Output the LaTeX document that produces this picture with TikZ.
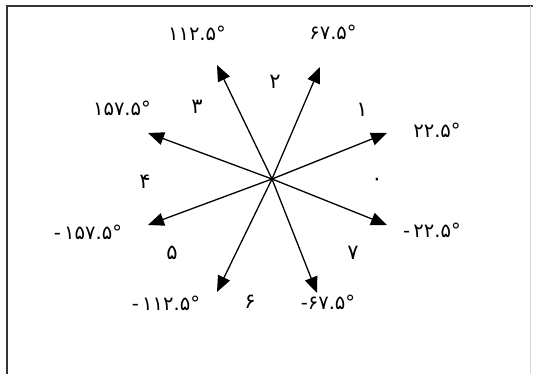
\documentclass[tikz,border=0pt]{standalone}
\usepackage{fontspec}
\newfontfamily\farsifont[Script=Arabic]{DejaVu Sans}
\usepackage{tikz}
\usetikzlibrary{arrows.meta}

\begin{document}
\begin{tikzpicture}[
    x=1pt, y=-1pt,
    angle/.style={font=\farsifont\fontsize{19.5}{21}\selectfont, inner sep=0pt},
    sector/.style={font=\farsifont\fontsize{21}{23}\selectfont, inner sep=0pt},
    arr/.style={-{Triangle[length=16pt,width=13pt]}, line width=1.3pt},
  ]
  \useasboundingbox (0,0) rectangle (533,374);
  % frame
  \draw[line width=2pt, black!80] (7,374) -- (7,6) -- (533,6);
  \draw[black!15] (530,6) -- (530,374);

  % centre and arrow tips
  \coordinate (o)    at (272,179);
  \coordinate (t0)   at (387,133);
  \coordinate (t1)   at (320,67);
  \coordinate (t2)   at (217,65);
  \coordinate (t3)   at (148,133);
  \coordinate (t4)   at (148,225);
  \coordinate (t5)   at (217,292);
  \coordinate (t6)   at (317,293);
  \coordinate (t7)   at (387,225);

  \draw[arr] (o) -- (t0);
  \draw[arr] (o) -- (t1);
  \draw[arr] (o) -- (t2);
  \draw[arr] (o) -- (t3);
  \draw[arr] (o) -- (t4);
  \draw[arr] (o) -- (t5);
  \draw[arr] (o) -- (t6);
  \draw[arr] (o) -- (t7);

  % angle labels
  \node[angle] (a0) at (437,130) {۲۲.۵°};
  \node[angle] (a1) at (333,32)  {۶۷.۵°};
  \node[angle] (a2) at (197,33)  {۱۱۲.۵°};
  \node[angle] (a3) at (122,108) {۱۵۷.۵°};
  \node[angle] (a4) at (88,232)  {\mbox{-\,}\mbox{۱۵۷.۵°}};
  \node[angle] (a5) at (166,303) {\mbox{-\,}\mbox{۱۱۲.۵°}};
  \node[angle] (a6) at (328,302) {\mbox{-}\mbox{۶۷.۵°}};
  \node[angle] (a7) at (432,230) {\mbox{-\,}\mbox{۲۲.۵°}};

  % sector numbers
  \node[sector] (s0) at (377,182) {۰};
  \node[sector] (s1) at (362,110) {۱};
  \node[sector] (s2) at (275,82)  {۲};
  \node[sector] (s3) at (197,107) {۳};
  \node[sector] (s4) at (145,182) {۴};
  \node[sector] (s5) at (172,253) {۵};
  \node[sector] (s6) at (250,302) {۶};
  \node[sector] (s7) at (353,253) {۷};
\end{tikzpicture}
\end{document}
